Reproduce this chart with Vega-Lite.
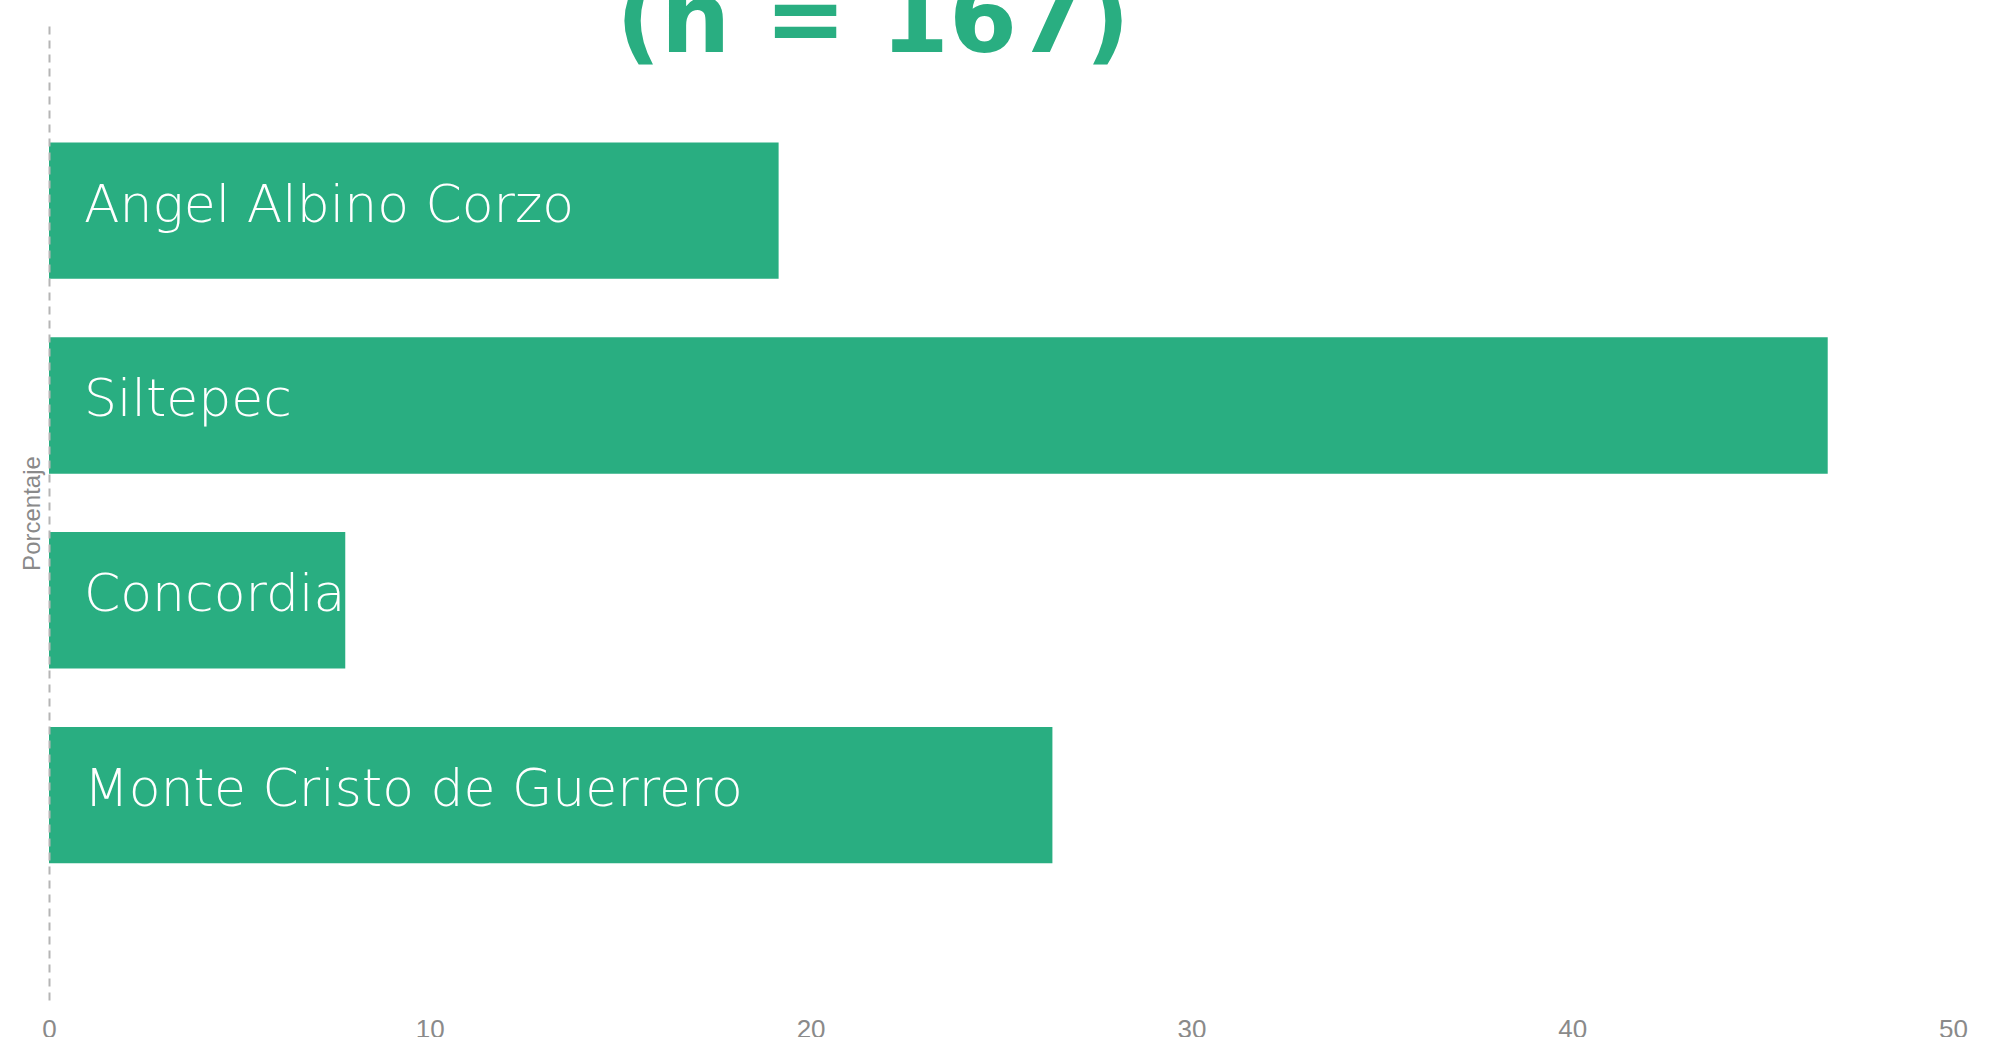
{
  "$schema": "https://vega.github.io/schema/vega-lite/v6.json",
  "autosize": {"type": "none"},
  "padding": {"left": 49, "top": 26, "right": 53, "bottom": 37},
  "width": 1904,
  "height": 974,
  "background": "white",
  "config": {"view": {"stroke": null}},
  "title": {
    "text": "(n = 167)",
    "font": "DejaVu Sans",
    "fontSize": 98,
    "fontWeight": "bold",
    "color": "#29AE81",
    "anchor": "middle",
    "frame": "group",
    "offset": -47,
    "dx": -128
  },
  "data": {
    "values": [
      {"municipio": "Angel Albino Corzo", "porcentaje": 19.16},
      {"municipio": "Siltepec", "porcentaje": 46.71},
      {"municipio": "Concordia", "porcentaje": 7.78},
      {"municipio": "Monte Cristo de Guerrero", "porcentaje": 26.35}
    ]
  },
  "encoding": {
    "y": {
      "field": "municipio",
      "type": "nominal",
      "sort": null,
      "scale": {"paddingInner": 0.3, "paddingOuter": 0.65, "align": 0.46},
      "axis": {
        "title": "Porcentaje",
        "titleFont": "Liberation Sans",
        "titleFontSize": 24,
        "titleFontWeight": "normal",
        "titleColor": "#8a8a8a",
        "titlePadding": 5,
        "labels": false,
        "ticks": false,
        "tickSize": 0,
        "domainDash": [8, 6],
        "domainColor": "#b5b5b5",
        "domainWidth": 2,
        "zindex": 1
      }
    }
  },
  "layer": [
    {
      "mark": {"type": "bar", "color": "#29AE81"},
      "encoding": {
        "x": {
          "field": "porcentaje",
          "type": "quantitative",
          "scale": {"domain": [0, 50], "nice": false},
          "axis": {
            "title": null,
            "grid": false,
            "domain": false,
            "ticks": false,
            "tickSize": 0,
            "values": [0, 10, 20, 30, 40, 50],
            "labelFlush": false,
            "labelFont": "Liberation Sans",
            "labelFontSize": 26,
            "labelColor": "#8a8a8a",
            "labelPadding": 16
          }
        }
      }
    },
    {
      "mark": {
        "type": "text",
        "align": "left",
        "baseline": "middle",
        "dx": 35,
        "dy": -5,
        "font": "DejaVu Sans",
        "fontSize": 52,
        "fontWeight": 300,
        "color": "white"
      },
      "encoding": {
        "x": {"datum": 0, "type": "quantitative"},
        "text": {"field": "municipio"}
      }
    }
  ]
}
